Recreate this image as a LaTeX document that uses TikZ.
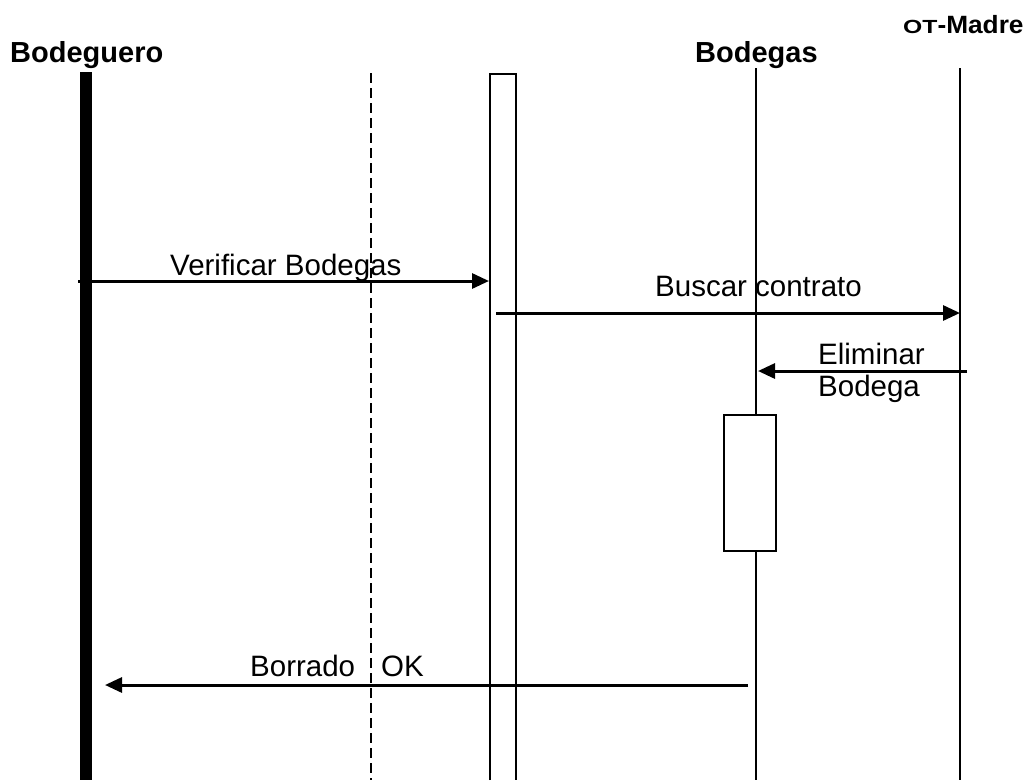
\documentclass[tikz,border=0pt]{standalone}
\usepackage{fontspec}
\setmainfont{Liberation Sans}
\usetikzlibrary{arrows.meta}
\begin{document}
\begin{tikzpicture}[x=1pt,y=-1pt,
  lbl/.style={font=\fontsize{29.5}{35}\selectfont, inner sep=0pt, anchor=base west},
  hd/.style={font=\bfseries\fontsize{29}{35}\selectfont, inner sep=0pt, anchor=base west},
  life/.style={line width=2pt},
  msg/.style={line width=3pt, -{Triangle[length=17pt,width=15pt]}},
]
\useasboundingbox (0,0) rectangle (1031,780);

% headers
\node[hd] (hbodeguero) at (10,62) {Bodeguero};
\node[hd] (hbodegas) at (695,62) {Bodegas};
\node[inner sep=0pt, anchor=base west, font=\bfseries] (hmadre) at (903,33)
  {\scalebox{1.3}[1]{\fontsize{19}{20}\selectfont OT}\scalebox{1.05}[1]{\fontsize{25}{26}\selectfont -Madre}};

% lifeline coordinates
\coordinate (bq-top) at (86,72);
\coordinate (bq-bot) at (86,780);
\coordinate (ds-top) at (371,73);
\coordinate (ds-bot) at (371,780);
\coordinate (bg-top) at (756,68);
\coordinate (bg-bot) at (756,780);
\coordinate (ot-top) at (960,68);
\coordinate (ot-bot) at (960,780);

% Bodeguero thick bar
\fill (80,72) rectangle (92,780);
% dashed line
\draw[line width=1.6pt, dash pattern=on 10pt off 5pt] (ds-top) -- (ds-bot);
% tall activation box
\draw[life] (490,780) |- (516,74) -- (516,780);
% Bodegas lifeline
\draw[life] (bg-top) -- (bg-bot);
% small activation box
\draw[life, fill=white] (724,415) rectangle (776,551);
% OT-Madre lifeline
\draw[life] (ot-top) -- (ot-bot);

% messages
\coordinate (m1s) at (78,281);
\coordinate (m1e) at (489,281);
\draw[msg] (m1s) -- (m1e);
\node[lbl] (l1) at (170,275) {Verificar Bodegas};

\coordinate (m2s) at (496,313);
\coordinate (m2e) at (960,313);
\draw[msg] (m2s) -- (m2e);
\node[lbl] (l2) at (655,296) {Buscar contrato};

\coordinate (m3s) at (967,371);
\coordinate (m3e) at (758,371);
\draw[msg] (m3s) -- (m3e);
\node[lbl] (l3a) at (818,364) {Eliminar};
\node[lbl] (l3b) at (818,396) {Bodega};

\coordinate (m4s) at (748,685);
\coordinate (m4e) at (105,685);
\draw[msg] (m4s) -- (m4e);
\node[lbl] (l4a) at (250,676) {Borrado};
\node[lbl] (l4b) at (381,676) {OK};
\end{tikzpicture}
\end{document}
